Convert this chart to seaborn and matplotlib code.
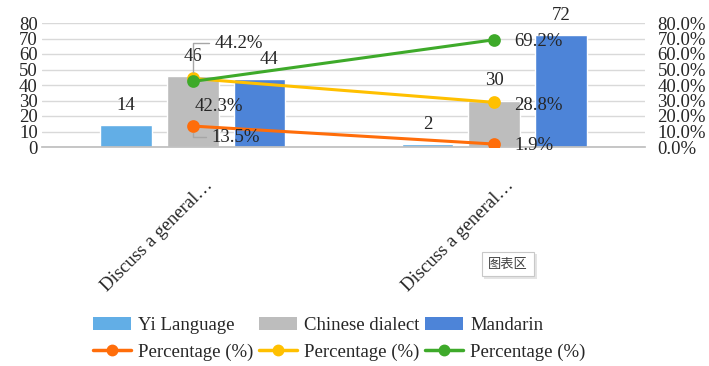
import numpy as np
import pandas as pd
import seaborn as sns
import matplotlib
matplotlib.use("Agg")
import matplotlib.pyplot as plt
import matplotlib.transforms as mtransforms
from matplotlib.patches import Patch, Rectangle
from matplotlib.lines import Line2D

# ---------------- data ----------------
question_ids = ["Q1", "Q2"]
tick_labels = ["Discuss a general…", "Discuss a general…"]
languages = ["Yi Language", "Chinese dialect", "Mandarin"]
yi_counts = [14, 2]
dialect_counts = [46, 30]
mandarin_counts = [44, 72]
yi_pct = [13.5, 1.9]
dialect_pct = [44.2, 28.8]
mandarin_pct = [42.3, 69.2]
line_label = "Percentage (%)"
tooltip_text = "图表区"

bar_colors = ["#62AEE6", "#BDBDBD", "#4D84D8"]
line_colors = ["#FF6D0A", "#FFC000", "#3EAA2A"]

sns.set_theme(style="white")
plt.rcParams["font.family"] = ["Liberation Serif", "DejaVu Serif"]
FS = 13.5
TXT = "#262626"

df_bar = pd.DataFrame({
    "question": question_ids * 3,
    "language": sum([[l] * 2 for l in languages], []),
    "count": yi_counts + dialect_counts + mandarin_counts,
})
df_pct = pd.DataFrame({
    "question": question_ids * 3,
    "series": sum([[l] * 2 for l in languages], []),
    "pct": yi_pct + dialect_pct + mandarin_pct,
})

fig = plt.figure(figsize=(7.09, 3.66), dpi=100)
ax = fig.add_axes([42 / 709, 1 - 147 / 366, (645 - 42) / 709, (147 - 23) / 366])

sns.barplot(data=df_bar, x="question", y="count", hue="language",
            hue_order=languages, palette=bar_colors, width=0.666, gap=0.23,
            ax=ax, legend=False, saturation=1, err_kws={"linewidth": 0})
for ci, cont in enumerate(ax.containers):
    anns = ax.bar_label(cont, padding=8, fontsize=FS, color=TXT)
    if ci == 2:
        # first Mandarin label sits slightly to the right in the original
        x0, y0 = anns[0].xyann
        anns[0].xyann = (x0 + 7, y0)

ax.set_ylim(0, 80)
ax.set_xlim(-0.5, 1.5)
ax.set_yticks(np.arange(0, 81, 10))
ax.yaxis.grid(True, color="#D9D9D9", linewidth=1)
ax.set_axisbelow(True)
for s in ["top", "right", "left"]:
    ax.spines[s].set_visible(False)
ax.spines["bottom"].set_color("#BFBFBF")
ax.tick_params(axis="y", length=0, pad=3, labelsize=FS, labelcolor=TXT)
ax.tick_params(axis="x", length=0)
ax.set_xticklabels([])
ax.set_xlabel("")
ax.set_ylabel("")

# rotated category labels
for i, lab in enumerate(tick_labels):
    trans = mtransforms.blended_transform_factory(ax.transData, ax.transAxes) + \
        mtransforms.ScaledTranslation(17 / 100, -36 / 100, fig.dpi_scale_trans)
    ax.text(i, 0, lab, rotation=45, rotation_mode="anchor", ha="right", va="center",
            transform=trans, fontsize=FS, color=TXT)

ax2 = ax.twinx()
sns.pointplot(data=df_pct, x="question", y="pct", hue="series", hue_order=languages,
              palette=line_colors, markers="o", markersize=7.5, linewidth=2.2,
              ax=ax2, legend=False, errorbar=None)
ax2.set_ylim(0, 80)
ax2.set_xlim(-0.5, 1.5)
ax2.set_yticks(np.arange(0, 81, 10))
ax2.set_yticklabels([f"{v:.1f}%" for v in np.arange(0, 81, 10)])
ax2.tick_params(axis="y", length=0, pad=9, labelsize=FS, labelcolor=TXT)
for s in ax2.spines.values():
    s.set_visible(False)
ax2.set_ylabel("")
ax2.set_xlabel("")
ax2.grid(False)

# line data labels
pct_series = [yi_pct, dialect_pct, mandarin_pct]
offsets = {
    (0, 0): (19, -11, True),
    (1, 0): (22, 35, True),
    (2, 0): (2, -25, False),
    (0, 1): (20, -1, False),
    (1, 1): (20, -3, False),
    (2, 1): (20, -2, False),
}
for si, vals in enumerate(pct_series):
    for qi, v in enumerate(vals):
        dx, dy, leader = offsets[(si, qi)]
        kw = {}
        if leader:
            kw["arrowprops"] = dict(arrowstyle="-", color="#A6A6A6", lw=1,
                                    connectionstyle="angle,angleA=0,angleB=90,rad=0",
                                    relpos=(0, 0.5), shrinkA=2, shrinkB=5)
        ax2.annotate(f"{v:.1f}%", xy=(qi, v), xytext=(dx, dy), textcoords="offset pixels",
                     ha="left", va="center", fontsize=FS, color=TXT, **kw)

# tooltip box with a faint shadow
fig.patches.append(Rectangle((484 / 709, 1 - 279 / 366), 53 / 709, 25 / 366,
                             transform=fig.transFigure, facecolor="#E4E4E4",
                             edgecolor="none", zorder=1))
fig.text(508 / 709, 1 - 264 / 366, tooltip_text, ha="center", va="center", fontsize=9.5,
         family=["Noto Sans CJK SC", "DejaVu Sans"], color="#404040", zorder=2,
         bbox=dict(boxstyle="square,pad=0.45", facecolor="white", edgecolor="#C8C8C8", lw=0.8))

# legend
handles = []
labels = []
for i, l in enumerate(languages):
    handles.append(Patch(facecolor=bar_colors[i], edgecolor="none"))
    labels.append(l)
    handles.append(Line2D([0], [0], color=line_colors[i], lw=2.5, marker="o", markersize=7.5))
    labels.append(line_label)
fig.legend(handles, labels, ncol=3, loc="upper left", bbox_to_anchor=(93 / 709, 1 - 317 / 366),
           frameon=False, fontsize=FS, handlelength=2.0, handletextpad=0.4,
           columnspacing=0.3, labelspacing=0.5, borderpad=0, borderaxespad=0,
           labelcolor=TXT)

fig.savefig("out.png", dpi=100)
